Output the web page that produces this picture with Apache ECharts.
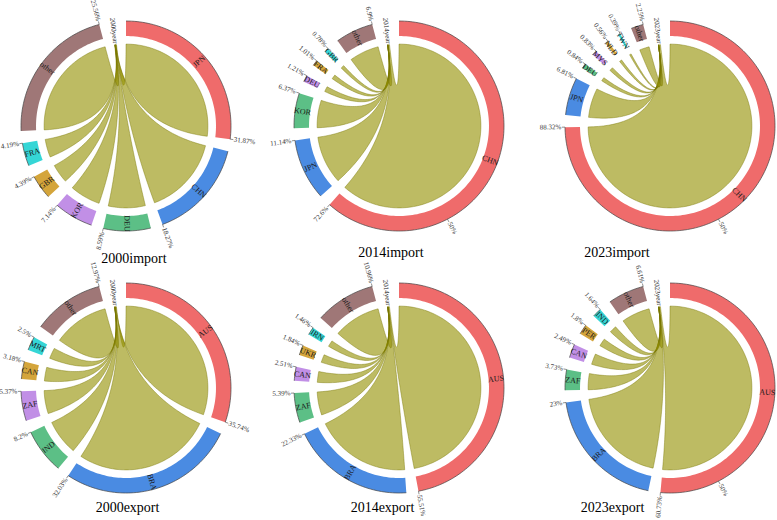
<!DOCTYPE html>
<html>
<head>
<meta charset="utf-8">
<script src="https://cdn.jsdelivr.net/npm/echarts@6/dist/echarts.min.js"></script>
<style>
  html, body { margin: 0; padding: 0; background: #fff; }
  #main { width: 777px; height: 520px; }
</style>
</head>
<body>
<div id="main"></div>
<script>
// chart titles and the label of the "year" node in each chord diagram
const titles = ['2000import', '2014import', '2023import', '2000export', '2014export', '2023export'];
const yearLabels = ['2000year', '2014year', '2023year', '2000year', '2014year', '2023year'];

// partner shares (%) in clockwise order from the top
const import2000Names = ['JPN', 'CHN', 'DEU', 'KOR', 'GBR', 'FRA', 'other'];
const import2000Values = [31.87, 18.27, 8.59, 7.14, 4.39, 4.19, 25.56];
const import2014Names = ['CHN', 'JPN', 'KOR', 'DEU', 'FRA', 'GBR', 'other'];
const import2014Values = [72.6, 11.14, 6.37, 1.21, 1.01, 0.78, 6.9];
const import2023Names = ['CHN', 'JPN', 'DEU', 'MYS', 'NLD', 'TWN', 'other'];
const import2023Values = [88.32, 6.81, 0.84, 0.83, 0.56, 0.39, 2.25];
const export2000Names = ['AUS', 'BRA', 'IND', 'ZAF', 'CAN', 'MRT', 'other'];
const export2000Values = [35.74, 32.03, 8.2, 5.37, 3.18, 2.5, 12.97];
const export2014Names = ['AUS', 'BRA', 'ZAF', 'CAN', 'UKR', 'IRN', 'other'];
const export2014Values = [55.51, 22.33, 5.39, 2.51, 1.84, 1.46, 10.96];
const export2023Names = ['AUS', 'BRA', 'ZAF', 'CAN', 'PER', 'IND', 'other'];
const export2023Values = [60.73, 23, 3.73, 2.49, 1.8, 1.64, 6.61];

// extra axis tick inside big sectors
const midTick = 50;

const allNames = [import2000Names, import2014Names, import2023Names, export2000Names, export2014Names, export2023Names];
const allValues = [import2000Values, import2014Values, import2023Values, export2000Values, export2014Values, export2023Values];

// layout
const centers = [[126, 126], [399, 126], [670, 126], [126, 388], [399, 388], [670, 388]];
const titlePos = [[134, 258], [391, 252], [617, 252], [127.5, 507], [382.5, 507], [612.5, 507]];
const RADIUS = 105;
const DEG_PER_PCT = 3.05;
const AXIS_MAX = 360 / DEG_PER_PCT;
const GAP = 6.7 / DEG_PER_PCT;     // gap between sectors, in % units
const YEAR_W = 1.4 / DEG_PER_PCT;  // width of the year node
const R_OUT = 1, R_IN = 0.857, R_LINK = 0.78;

const sectorColors = ['#EF6B6B', '#4A8BE2', '#5CBF86', '#C18FE6', '#D4A53B', '#35D6D6', '#9F7777'];
const FONT = 'Liberation Serif';

function quad(p0, c, p1, n) {
  const pts = [];
  for (let j = 1; j < n; j++) {
    const t = j / n, u = 1 - t;
    pts.push([u * u * p0[0] + 2 * u * t * c[0] + t * t * p1[0],
              u * u * p0[1] + 2 * u * t * c[1] + t * t * p1[1]]);
  }
  return pts;
}

// text laid along the radius, flipped on the left half so it never reads upside down
function radialText(p, c, text, mode, fontSize, color) {
  const phi = Math.atan2(p[1] - c[1], p[0] - c[0]);
  const right = Math.cos(phi) > 1e-6;
  let align = 'center';
  if (mode === 'out') align = right ? 'left' : 'right';
  return {
    type: 'text',
    x: p[0], y: p[1],
    rotation: right ? -phi : Math.PI - phi,
    style: {
      text: text, fontSize: fontSize, fontFamily: FONT, fill: color,
      align: align, verticalAlign: 'middle'
    }
  };
}

function makeSeries(k) {
  const names = allNames[k], values = allValues[k];
  const items = [];
  let pos = 0;
  values.forEach((v, i) => {
    items.push([R_OUT, pos, pos + v, v, i]);
    pos += v + GAP;
  });
  const yearStart = pos, yearEnd = pos + YEAR_W;
  // sub-slots of the year node, last partner first so links do not cross
  const slots = [];
  let s = yearStart;
  for (let i = values.length - 1; i >= 0; i--) {
    const w = YEAR_W * values[i] / 100;
    slots[i] = [s, s + w];
    s += w;
  }

  return {
    type: 'custom',
    coordinateSystem: 'polar',
    polarIndex: k,
    data: items,
    encode: { radius: 0, angle: 1 },
    renderItem: function (params, api) {
      const a0 = api.value(1), a1 = api.value(2), v = api.value(3), i = api.value(4);
      const c = api.coord([0, 0]);
      const pt = (r, a) => api.coord([r, a]);
      const arc = (r, from, to, n) => {
        const pts = [];
        for (let j = 0; j <= n; j++) pts.push(pt(r, from + (to - from) * j / n));
        return pts;
      };
      const steps = Math.max(4, Math.ceil(v * 2));
      const children = [];

      // link from partner to the year node
      const b = slots[i];
      const link = [].concat(
        arc(R_LINK, a0, a1, steps),
        quad(pt(R_LINK, a1), c, pt(R_LINK, b[0]), 60),
        arc(R_LINK, b[0], b[1], 2),
        quad(pt(R_LINK, b[1]), c, pt(R_LINK, a0), 60)
      );
      children.push({
        type: 'polygon', shape: { points: link },
        style: { fill: 'rgba(147,144,0,0.61)', stroke: 'rgba(120,118,0,0.85)', lineWidth: 0.5 }
      });

      // sector on the outer track
      const ring = [].concat(arc(R_OUT, a0, a1, steps), arc(R_IN, a1, a0, steps));
      children.push({
        type: 'polygon', shape: { points: ring },
        style: { fill: sectorColors[i % sectorColors.length], stroke: null }
      });
      children.push({
        type: 'polyline', shape: { points: arc(R_OUT, a0, a1, steps) },
        style: { stroke: '#444', lineWidth: 0.7, fill: null }
      });

      // ticks and percentage labels
      const ticks = [[a1, v + '%']];
      if (v - midTick > 8) ticks.push([a0 + midTick, midTick + '%']);
      ticks.forEach(t => {
        const p0 = pt(R_OUT, t[0]), p1 = pt(1.03, t[0]);
        children.push({
          type: 'line', shape: { x1: p0[0], y1: p0[1], x2: p1[0], y2: p1[1] },
          style: { stroke: '#444', lineWidth: 0.6 }
        });
        children.push(radialText(pt(1.035, t[0]), c, t[1], 'out', 7, '#333'));
      });

      // partner name inside the sector
      children.push(radialText(pt((R_OUT + R_IN) / 2, (a0 + a1) / 2), c, names[i], 'mid', 8, '#1a1a1a'));

      // year node label, drawn once
      if (i === 0) {
        children.push(radialText(pt(0.915, (yearStart + yearEnd) / 2), c, yearLabels[k], 'mid', 7, '#1a1a1a'));
      }
      return { type: 'group', children: children };
    }
  };
}

const chart = echarts.init(document.getElementById('main'), null, { renderer: 'svg' });
const option = {
  animation: false,
  backgroundColor: '#fff',
  polar: centers.map(c => ({ center: c, radius: RADIUS })),
  angleAxis: centers.map((c, k) => ({
    polarIndex: k, type: 'value', min: 0, max: AXIS_MAX,
    startAngle: 90, clockwise: true, show: false
  })),
  radiusAxis: centers.map((c, k) => ({
    polarIndex: k, type: 'value', min: 0, max: 1, show: false
  })),
  graphic: titles.map((t, k) => ({
    type: 'text', x: titlePos[k][0], y: titlePos[k][1],
    style: { text: t, fontSize: 14, fontFamily: FONT, fill: '#000', align: 'center', verticalAlign: 'middle' }
  })),
  series: titles.map((t, k) => makeSeries(k))
};
chart.setOption(option);
</script>
</body>
</html>
